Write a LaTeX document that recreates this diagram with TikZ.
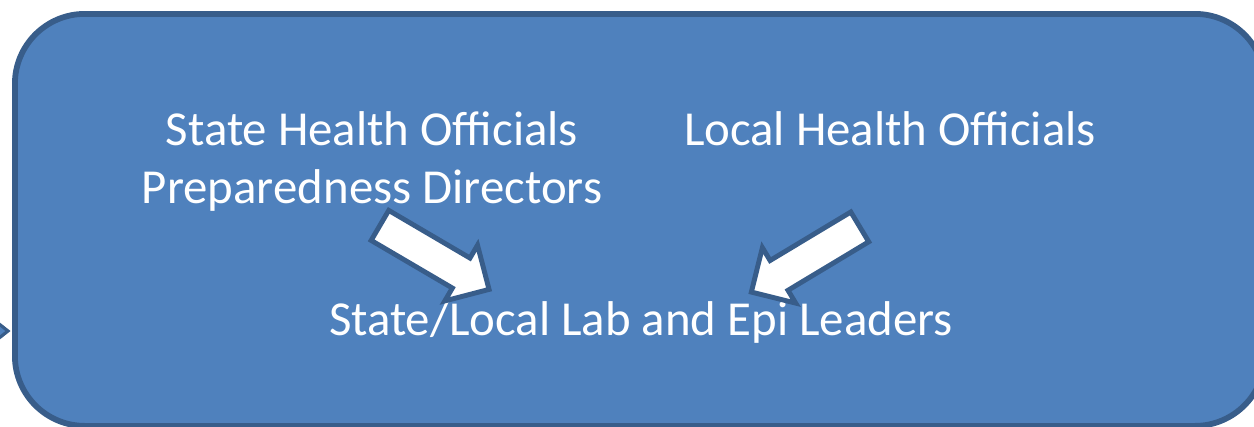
\documentclass[tikz,border=0pt]{standalone}
\usepackage{fontspec}
\setmainfont{Carlito}
\usetikzlibrary{shapes.arrows}
\definecolor{boxfill}{RGB}{79,129,189}
\definecolor{boxline}{RGB}{56,93,138}
\begin{document}
\begin{tikzpicture}[x=0.02cm,y=-0.02cm,
  lbl/.style={text=white,font=\fontsize{27.8}{32}\selectfont,anchor=base,inner sep=0pt},
  blockarrow/.style={single arrow,draw=boxline,fill=white,line width=2.8pt,
    minimum height=72pt,minimum width=34pt,single arrow head extend=8.5pt,
    inner sep=8.5pt,single arrow tip angle=90,anchor=center}]
\useasboundingbox (0,0) rectangle (1254,426);
% partial incoming arrow at the left edge
\draw[fill=boxfill,draw=boxline,line width=1.8pt,line join=miter] (-30,301) -- (8,331) -- (-30,361) -- cycle;
% main rounded box
\node[draw=boxline,fill=boxfill,line width=3.3pt,rounded corners=1.4cm,
  minimum width=1250*0.02cm,minimum height=412*0.02cm,anchor=north west,inner sep=0pt]
  (box) at (12,11) {};
\node[lbl] (sho) at (372,145) {State Health Officials};
\node[lbl] (pd) at (372,203) {Preparedness Directors};
\node[lbl] (lho) at (890,145) {Local Health Officials};
\node[lbl] (lead) at (641,335) {State/Local Lab and Epi Leaders};
\node[blockarrow,rotate=-30.4] (a1) at (427,253) {};
\node[blockarrow,rotate=211] (a2) at (813,255) {};
\end{tikzpicture}
\end{document}
